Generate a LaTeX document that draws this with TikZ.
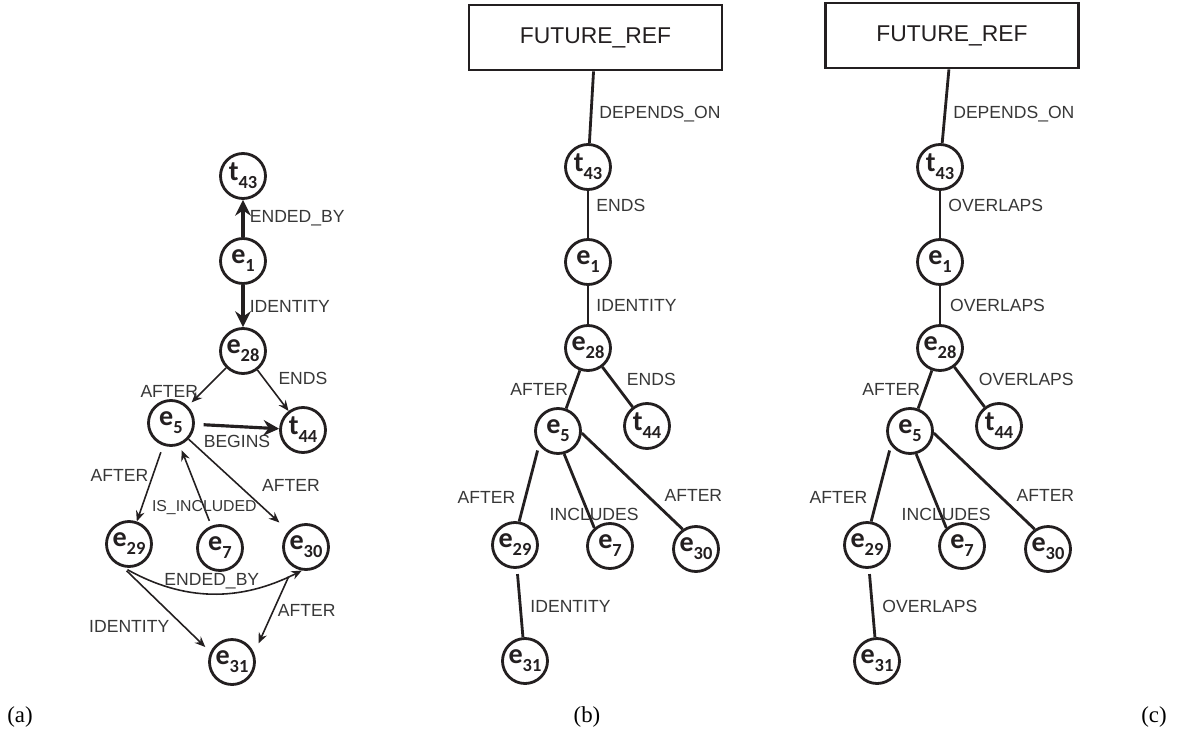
\documentclass[tikz,border=0pt]{standalone}
\usepackage{fontspec}
\setmainfont{Liberation Serif}
\newfontfamily\lblfont{Liberation Sans}
\newfontfamily\evtfont{Carlito}
\usepackage{tikz}
\usetikzlibrary{arrows.meta, positioning}
\definecolor{inkgray}{RGB}{35,31,32}
\definecolor{labelgray}{RGB}{55,55,55}
\newcommand{\evname}[2]{{\fontsize{16}{18}\selectfont #1}\raisebox{-4.5pt}{\fontsize{10.5}{12}\selectfont #2}}

\begin{document}
\begin{tikzpicture}[
    on grid,
    evt/.style={circle, draw=inkgray, line width=1.6pt, minimum size=0.9cm, inner sep=0pt, font=\evtfont\bfseries, text=inkgray},
    refbox/.style={rectangle, draw=inkgray, line width=1.6pt, minimum width=5.06cm, minimum height=1.3cm, font=\lblfont\fontsize{13}{15}\selectfont, text=inkgray},
    rel/.style={font=\lblfont\fontsize{10}{12}\selectfont, text=labelgray, inner sep=2pt},
    smallrel/.style={rel, font=\lblfont\fontsize{9}{11}\selectfont},
    link/.style={draw=inkgray, line width=1.6pt},
    thinarrow/.style={draw=inkgray, line width=0.9pt, -{Stealth[length=6pt, width=5pt, inset=2pt]}},
    thickarrow/.style={draw=inkgray, line width=1.8pt, -{Stealth[length=9pt, width=9pt, inset=3pt]}},
    panel/.style={font=\fontsize{13}{15}\selectfont}
]
\useasboundingbox (0,0) rectangle (23.56,-14.66);

% Panel (a)
\node[evt] (t43) at (4.86,-3.52) {\evname{t}{43}};
\node[evt, below=1.70cm of t43] (e1) {\evname{e}{1}};
\node[evt, below=1.80cm of e1] (e28) {\evname{e}{28}};
\node[evt, below left=1.44cm and 1.44cm of e28] (e5) {\evname{e}{5}};
\node[evt, below right=1.58cm and 1.20cm of e28] (t44) {\evname{t}{44}};
\node[evt, below left=2.42cm and 0.84cm of e5] (e29) {\evname{e}{29}};
\node[evt, below right=2.50cm and 0.98cm of e5] (e7) {\evname{e}{7}};
\node[evt, below right=2.48cm and 2.70cm of e5] (e30) {\evname{e}{30}};
\node[evt, below right=2.36cm and 2.06cm of e29] (e31) {\evname{e}{31}};

\draw[thickarrow] (e1) -- node[rel, right=1pt] {ENDED\_BY} (t43);
\draw[thickarrow] (e1) -- node[rel, right=1pt] {IDENTITY} (e28);
\draw[thinarrow, shorten >=3pt] (e28) -- node[rel, pos=0.62, left] {AFTER} (e5);
\draw[thinarrow] (e28) -- node[rel, pos=0.2, right=6pt] {ENDS} (t44);
\draw[thickarrow, shorten <=5pt] (e5) -- node[rel, below=2pt] {BEGINS} (t44);
\draw[thinarrow, shorten <=4pt] (e5) -- node[rel, pos=0.4, left] {AFTER} (e29);
\draw[thinarrow, shorten >=7pt] (e5) -- node[rel, pos=0.5, right=11pt] {AFTER} (e30);
\draw[thinarrow, shorten <=3pt, shorten >=3pt] (e7) -- node[smallrel, pos=0.22] {IS\_INCLUDED} (e5);
\draw[thinarrow, shorten <=3pt] (e29.255) to[bend right=28] node[rel, above] {ENDED\_BY} (e30.260);
\draw[thinarrow, shorten <=3pt, shorten >=4pt] (e29.255) -- node[rel, pos=0.58, below left] {IDENTITY} (e31.155);
\draw[thinarrow, shorten <=6pt, shorten >=6pt] (e30.237) -- node[rel, right] {AFTER} (e31.22);

% Panel (b)
\node[refbox] (bref) at (11.91,-0.75) {FUTURE\_REF};
\node[evt, below left=2.59cm and 0.15cm of bref] (bt43) {\evname{t}{43}};
\node[evt, below=1.90cm of bt43] (be1) {\evname{e}{1}};
\node[evt, below=1.72cm of be1] (be28) {\evname{e}{28}};
\node[evt, below left=1.66cm and 0.60cm of be28] (be5) {\evname{e}{5}};
\node[evt, below right=1.56cm and 1.18cm of be28] (bt44) {\evname{t}{44}};
\node[evt, below left=2.28cm and 0.86cm of be5] (be29) {\evname{e}{29}};
\node[evt, below right=2.30cm and 1.04cm of be5] (be7) {\evname{e}{7}};
\node[evt, below right=2.36cm and 2.76cm of be5] (be30) {\evname{e}{30}};
\node[evt, below right=2.32cm and 0.20cm of be29] (be31) {\evname{e}{31}};

\draw[link] (bref) -- node[rel, pos=0.6, right=2pt] {DEPENDS\_ON} (bt43);
\draw[link] (bt43) -- node[rel, pos=0.3, right=2pt] {ENDS} (be1);
\draw[link] (be1) -- node[rel, right=2pt] {IDENTITY} (be28);
\draw[link] (be28) -- node[rel, left] {AFTER} (be5);
\draw[link] (be28) -- node[rel, pos=0.3, right=6pt] {ENDS} (bt44);
\draw[link, shorten <=3pt] (be5.217) -- node[rel, pos=0.68, left=3pt] {AFTER} (be29.80);
\draw[link] (be5.285) -- node[rel, pos=0.82, xshift=3pt] {INCLUDES} (be7.131);
\draw[link] (be5.355) -- node[rel, pos=0.65, right=7pt] {AFTER} (be30.124);
\draw[link, shorten <=3pt] (be29) -- node[rel, pos=0.55, right=3pt] {IDENTITY} (be31);

% Panel (c)
\node[refbox] (cref) at (19.04,-0.71) {FUTURE\_REF};
\node[evt, below left=2.63cm and 0.24cm of cref] (ct43) {\evname{t}{43}};
\node[evt, below=1.90cm of ct43] (ce1) {\evname{e}{1}};
\node[evt, below=1.72cm of ce1] (ce28) {\evname{e}{28}};
\node[evt, below left=1.66cm and 0.60cm of ce28] (ce5) {\evname{e}{5}};
\node[evt, below right=1.56cm and 1.18cm of ce28] (ct44) {\evname{t}{44}};
\node[evt, below left=2.28cm and 0.86cm of ce5] (ce29) {\evname{e}{29}};
\node[evt, below right=2.30cm and 1.04cm of ce5] (ce7) {\evname{e}{7}};
\node[evt, below right=2.36cm and 2.76cm of ce5] (ce30) {\evname{e}{30}};
\node[evt, below right=2.32cm and 0.20cm of ce29] (ce31) {\evname{e}{31}};

\draw[link] (cref) -- node[rel, pos=0.6, right=2pt] {DEPENDS\_ON} (ct43);
\draw[link] (ct43) -- node[rel, pos=0.3, right=2pt] {OVERLAPS} (ce1);
\draw[link] (ce1) -- node[rel, right=3pt] {OVERLAPS} (ce28);
\draw[link] (ce28) -- node[rel, left] {AFTER} (ce5);
\draw[link] (ce28) -- node[rel, pos=0.3, right=6pt] {OVERLAPS} (ct44);
\draw[link, shorten <=3pt] (ce5.217) -- node[rel, pos=0.68, left=3pt] {AFTER} (ce29.80);
\draw[link] (ce5.285) -- node[rel, pos=0.82, xshift=3pt] {INCLUDES} (ce7.131);
\draw[link] (ce5.355) -- node[rel, pos=0.65, right=7pt] {AFTER} (ce30.124);
\draw[link, shorten <=3pt] (ce29) -- node[rel, pos=0.55, right=3pt] {OVERLAPS} (ce31);

% Sub-figure labels
\node[panel] (laba) at (0.40,-14.34) {(a)};
\node[panel] (labb) at (11.74,-14.34) {(b)};
\node[panel] (labc) at (23.08,-14.34) {(c)};

\end{tikzpicture}
\end{document}
